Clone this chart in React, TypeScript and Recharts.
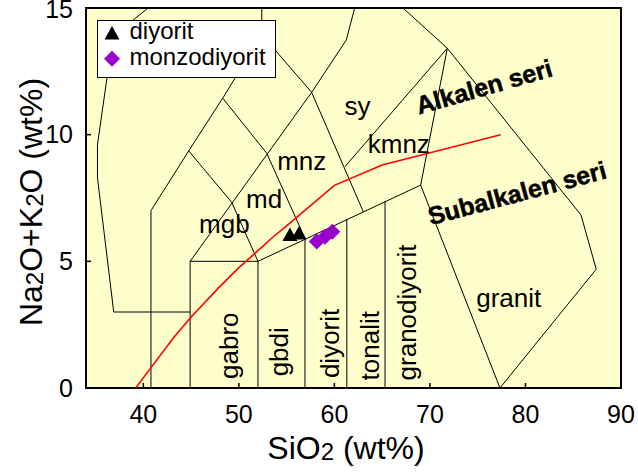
import { ScatterChart, Scatter, XAxis, YAxis, ReferenceArea, Legend } from "recharts";

const FONT = '"Liberation Sans", Arial, Helvetica, sans-serif';

const X_TICKS = [40, 50, 60, 70, 80, 90];
const Y_TICKS = [0, 5, 10, 15];

// field boundaries, [SiO2, Na2O+K2O]
const leftEdge = [[44.9, 3], [36.9, 3], [35.2, 8.3], [35.2, 9.6], [36.2, 12.25], [37.2, 14], [40.5, 15]];
const foidLine = [[40.8, 0], [40.8, 7], [44.75, 9.36], [48.31, 11.44], [52.4, 13.95], [52.4, 15]];
const syeniteLine = [[52.4, 13.95], [57.62, 11.67], [63.02, 6.96]];
const monzoLine = [[44.9, 5], [57.62, 11.67], [61.25, 13.74], [62.12, 15]];
const mgbTop = [[44.75, 9.36], [49.25, 7.33], [52, 5]];
const mdTop = [[48.31, 11.44], [52.91, 9.27], [56.92, 5.91]];
const dioriteTop = [[52, 5], [69.03, 8.01]];
const gabbroBox = [[44.9, 0], [44.9, 5], [52, 5], [52, 0]];
const div57 = [[56.92, 0], [56.92, 5.91]];
const div61 = [[61.3, 0], [61.3, 6.67]];
const div65 = [[65.3, 0], [65.3, 7.37]];
const graniteLeft = [[77.33, 0], [69.03, 8.01], [71.82, 13.41], [67.18, 15]];
const graniteRight = [[71.82, 13.41], [85.81, 6.83], [87.41, 4.69], [77.33, 0]];
const qmzLine = [[71.82, 13.41], [61.11, 8.74]];

const BOUNDARIES = [
  leftEdge, foidLine, syeniteLine, monzoLine, mgbTop, mdTop, dioriteTop,
  gabbroBox, div57, div61, div65, graniteLeft, graniteRight, qmzLine,
];

// alkaline / subalkaline divider
const alkSiO2 = [39.2, 40, 43.2, 45, 48, 50, 53.7, 55, 60, 65, 77.4];
const alkTotal = [0, 0.4, 2, 2.8, 4, 4.75, 6, 6.4, 8, 8.8, 10];

// samples
const diyoritSiO2 = [55.35, 56.29];
const diyoritTotal = [6.04, 6.1];
const monzoSiO2 = [58.15, 59.02, 59.78];
const monzoTotal = [5.78, 5.97, 6.17];

// field labels
const fieldNames = ["mgb", "md", "mnz", "sy", "kmnz", "granit"];
const fieldX = [48.48, 52.65, 56.58, 62.42, 66.74, 78.25];
const fieldY = [6.11, 7.09, 8.61, 10.78, 9.27, 3.21];

const rockNames = ["gabro", "gbdi", "diyorit", "tonalit", "granodiyorit"];
const rockX = [49.91, 55.14, 60.48, 64.62, 68.54];
const rockY = [1.67, 1.43, 1.76, 1.67, 2.98];

const seriesNames = ["Alkalen seri", "Subalkalen seri"];
const seriesX = [75.66, 79.11];
const seriesY = [11.9, 7.7];
const seriesAngle = [-16, -15];

const toPts = (line: number[][]) => line.map(([x, y]) => ({ x, y }));
const zip = (xs: number[], ys: number[]) => xs.map((x, i) => ({ x, y: ys[i] }));

const Nothing = () => <g />;

function Triangle({ cx, cy, fill }: any) {
  return <polygon points={`${cx},${cy - 7.5} ${cx - 7.5},${cy + 6} ${cx + 7.5},${cy + 6}`} fill={fill} />;
}

function Diamond({ cx, cy, fill }: any) {
  return <polygon points={`${cx},${cy - 8} ${cx + 8},${cy} ${cx},${cy + 8} ${cx - 8},${cy}`} fill={fill} />;
}

function FieldLabel({ cx, cy, payload }: any) {
  return (
    <text x={cx} y={cy} textAnchor="middle" fontFamily={FONT} fontSize={26} fill="#000">
      {payload.name}
    </text>
  );
}

function RockLabel({ cx, cy, payload }: any) {
  return (
    <text x={cx} y={cy} textAnchor="middle" fontFamily={FONT} fontSize={26} fill="#000"
      transform={`rotate(-90 ${cx} ${cy})`}>
      {payload.name}
    </text>
  );
}

function SeriesLabel({ cx, cy, payload }: any) {
  return (
    <text x={cx} y={cy} textAnchor="middle" dominantBaseline="central" fontFamily={FONT}
      fontSize={25} fontWeight="bold" fill="#000" stroke="#000" strokeWidth={0.5}
      transform={`rotate(${payload.angle} ${cx} ${cy})`}>
      {payload.name}
    </text>
  );
}

function XTick({ x, y, payload }: any) {
  return (
    <text x={x} y={y} textAnchor="middle" fontFamily={FONT} fontSize={25} fill="#000">
      {payload.value}
    </text>
  );
}

function YTick({ x, y, payload }: any) {
  return (
    <text x={x} y={y} dy="0.35em" textAnchor="end" fontFamily={FONT} fontSize={25} fill="#000">
      {payload.value}
    </text>
  );
}

function XTitle() {
  return (
    <text x={346} y={459} textAnchor="middle" fontFamily={FONT} fontSize={32} fill="#000">
      SiO<tspan fontSize={24} dy={1}>2</tspan><tspan dy={-1}> (wt%)</tspan>
    </text>
  );
}

function YTitle() {
  return (
    <text x={42} y={202} textAnchor="middle" fontFamily={FONT} fontSize={32} fill="#000"
      transform="rotate(-90 42 202)">
      Na<tspan fontSize={24} dy={1}>2</tspan><tspan dy={-1}>O+K</tspan>
      <tspan fontSize={24} dy={1}>2</tspan><tspan dy={-1}>O (wt%)</tspan>
    </text>
  );
}

function LegendBox() {
  return (
    <svg width={179} height={58} style={{ display: "block" }}>
      <rect x={0.5} y={0.5} width={178} height={57} fill="#fff" stroke="#000" strokeWidth={1} />
      <Triangle cx={15} cy={13.5} fill="#000" />
      <text x={32.5} y={19} fontFamily={FONT} fontSize={24} fill="#000">diyorit</text>
      <Diamond cx={15} cy={38.7} fill="#9900cc" />
      <text x={32.5} y={45} fontFamily={FONT} fontSize={24} fill="#000">monzodiyorit</text>
    </svg>
  );
}

export default function App() {
  const fieldData = fieldNames.map((name, i) => ({ name, x: fieldX[i], y: fieldY[i] }));
  const rockData = rockNames.map((name, i) => ({ name, x: rockX[i], y: rockY[i] }));
  const seriesData = seriesNames.map((name, i) => ({ name, x: seriesX[i], y: seriesY[i], angle: seriesAngle[i] }));

  return (
    <div style={{ position: "absolute", left: 0, top: 0, width: 638, height: 473, background: "#fff" }}>
      <ScatterChart width={638} height={473} margin={{ top: 8, right: 17, bottom: 0, left: 0 }}>
        <ReferenceArea x1={34} x2={90} y1={0} y2={15} fill="#ffffcc" fillOpacity={1}
          stroke="#000" strokeWidth={2} ifOverflow="visible" />
        <XAxis type="number" dataKey="x" domain={[34, 90]} ticks={X_TICKS} allowDataOverflow
          height={85} tickSize={-5} tickMargin={40} tick={<XTick />}
          axisLine={{ stroke: "#000", strokeWidth: 2 }} tickLine={{ stroke: "#000", strokeWidth: 1.5 }}
          label={<XTitle />} />
        <YAxis type="number" dataKey="y" domain={[0, 15]} ticks={Y_TICKS} allowDataOverflow
          width={86} tickSize={-5} tickMargin={18} tick={<YTick />}
          axisLine={{ stroke: "#000", strokeWidth: 2 }} tickLine={{ stroke: "#000", strokeWidth: 1.5 }}
          label={<YTitle />} />

        {BOUNDARIES.map((line, i) => (
          <Scatter key={i} data={toPts(line)} line={{ stroke: "#000", strokeWidth: 1 }}
            shape={<Nothing />} isAnimationActive={false} legendType="none" />
        ))}
        <Scatter data={zip(alkSiO2, alkTotal)} line={{ stroke: "#ff0000", strokeWidth: 1.6 }}
          shape={<Nothing />} isAnimationActive={false} legendType="none" />

        <Scatter data={fieldData} shape={<FieldLabel />} isAnimationActive={false} legendType="none" />
        <Scatter data={rockData} shape={<RockLabel />} isAnimationActive={false} legendType="none" />
        <Scatter data={seriesData} shape={<SeriesLabel />} isAnimationActive={false} legendType="none" />

        <Scatter name="diyorit" data={zip(diyoritSiO2, diyoritTotal)} fill="#000"
          shape={<Triangle />} isAnimationActive={false} />
        <Scatter name="monzodiyorit" data={zip(monzoSiO2, monzoTotal)} fill="#9900cc"
          shape={<Diamond />} isAnimationActive={false} />

        <Legend layout="vertical" verticalAlign="middle" align="center" width={179} height={58}
          wrapperStyle={{ left: 97, top: 20, width: 179, height: 58 }} content={<LegendBox />} />
      </ScatterChart>
    </div>
  );
}
